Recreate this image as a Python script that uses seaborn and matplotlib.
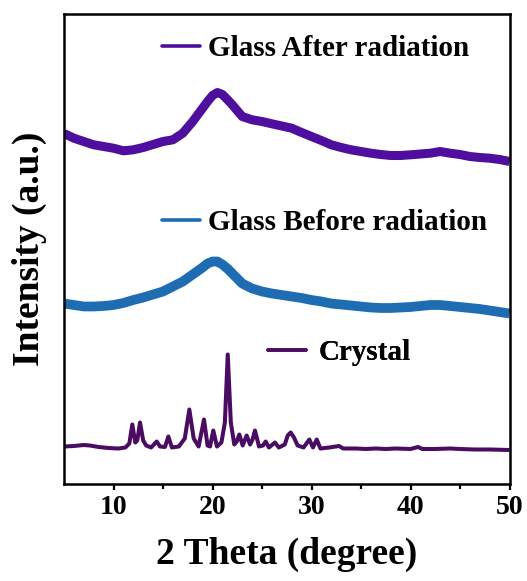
import numpy as np
import pandas as pd
import matplotlib
matplotlib.use("Agg")
import matplotlib.pyplot as plt
from matplotlib.ticker import FixedLocator
import seaborn as sns

# ---- data (2 theta in degrees, intensity in arbitrary units) ----
crystal_2theta = [5.0, 6.0, 7.0, 7.6, 8.5, 9.5, 10.5, 11.2, 11.6, 11.9, 12.2, 12.4,
                  12.68, 13.0, 13.3, 13.8, 14.36, 14.7, 15.2, 15.54, 15.9, 16.6, 17.2,
                  17.66, 18.1, 18.6, 19.14, 19.5, 19.75, 20.08, 20.45, 20.9, 21.25,
                  21.54, 21.85, 22.2, 22.45, 22.71, 23.05, 23.45, 23.8, 24.05, 24.29,
                  24.7, 25.1, 25.37, 25.7, 26.31, 26.7, 27.3, 27.6, 27.9, 28.23, 28.6,
                  29.2, 29.78, 30.15, 30.53, 30.9, 31.8, 32.78, 33.2, 34.5, 35.5, 36.5,
                  37.5, 38.5, 40.0, 40.76, 41.2, 42.5, 44.0, 45.0, 46.5, 48.0, 50.0]
crystal_intensity = [1, 1.5, 2.5, 2, 0.5, -0.5, -1, 0, 4, 23, 5, 7,
                     25, 7, 2, 0, 6, 1, 0.5, 11, 0, 1, 9,
                     38, 9, 1, 28, 2, 1, 17, 1, 5, 25,
                     93, 25, 3, 6, 13, 2, 12, 3, 8, 17,
                     1, 2, 6, 0, 5, 0, 3, 12, 15, 10, 2,
                     0, 8, 0, 8, -1, 0, 1.5, -1, -1, -1.5, -1,
                     -1.5, -1, -1.5, 0.5, -1.5, -1.5, -1, -1.5, -2, -2, -2.5]

glass_2theta = [5, 6, 7, 8, 9, 10, 11, 12, 13, 14, 15, 16, 17, 18, 19, 19.5, 20,
                20.5, 21, 21.5, 22, 23, 24, 25, 26, 27, 28, 29, 30, 31, 32, 33, 34,
                35, 36, 37, 38, 39, 40, 41, 42, 43, 44, 45, 46, 47, 48, 49, 50]
glass_before = [10, 8.5, 7, 7, 7.5, 8.5, 10.5, 13.5, 16, 19, 22, 27, 32, 39, 46, 50, 52,
                52, 49, 45, 40, 30, 25, 22, 20, 18.5, 17, 15.5, 13.5, 12, 10, 9, 8,
                7, 6, 5.5, 5.5, 6, 6.5, 7.5, 8.5, 8.5, 7.5, 6.5, 5.5, 4.5, 3, 1.5, 0]
glass_after = [30, 25.3, 22, 18.7, 17, 15.3, 12.7, 13.7, 16, 19, 22, 23.7, 30.3, 42, 55.3, 62, 68,
               71, 69, 64, 58.7, 47, 43.7, 42, 39.7, 37.5, 35.3, 31, 27, 23, 18.7, 16, 13.7,
               12, 10.3, 9, 8, 8, 8.7, 9.5, 10.3, 12, 10.3, 9, 7, 6, 5.3, 4, 2]

labels = ["Glass After radiation", "Glass Before radiation", "Crystal"]
offsets = [320, 170, 36]
colors = ["#4E0E9E", "#1E6DB2", "#4A0C62"]

# ---- style ----
sns.set_style("ticks")
plt.rcParams["font.family"] = ["Liberation Serif", "DejaVu Serif"]
plt.rcParams["font.weight"] = "bold"
plt.rcParams["axes.labelweight"] = "bold"
plt.rcParams["text.color"] = "black"
plt.rcParams["axes.labelcolor"] = "black"
plt.rcParams["xtick.color"] = "black"
plt.rcParams["ytick.color"] = "black"
plt.rcParams["axes.edgecolor"] = "black"

fig = plt.figure(figsize=(5.27, 5.81), dpi=100)
W, H = 527, 581
ax = fig.add_axes([64 / W, (H - 483.5) / H, (509.5 - 64) / W, (483.5 - 14) / H])

series = [
    (glass_2theta, glass_after),
    (glass_2theta, glass_before),
    (crystal_2theta, crystal_intensity),
]
widths = [6.5, 7.0, 2.9]
for (x, y), lab, off, col, lw in zip(series, labels, offsets, colors, widths):
    df = pd.DataFrame({"two_theta": x, "intensity": np.asarray(y, float) + off})
    sns.lineplot(data=df, x="two_theta", y="intensity", ax=ax, color=col,
                 linewidth=lw, sort=False, estimator=None,
                 solid_joinstyle="round", solid_capstyle="butt")

ax.set_xlim(5, 50)
ax.set_ylim(0, 469.5)
ax.set_yticks([])
ax.set_xticks([10, 20, 30, 40, 50])
ax.xaxis.set_minor_locator(FixedLocator([15, 25, 35, 45]))
ax.tick_params(axis="x", which="major", direction="out", length=4.5, width=1.6,
               labelsize=20, pad=4.0, colors="black")
ax.tick_params(axis="x", which="minor", direction="out", length=3.5, width=1.6,
               colors="black")
for lab in ax.get_xticklabels():
    lab.set_fontweight("bold")
for sp in ax.spines.values():
    sp.set_linewidth(1.8)
    sp.set_color("black")
    sp.set_visible(True)

ax.set_xlabel("2 Theta (degree)", fontsize=27, fontweight="bold", labelpad=12,
              color="black")
ax.set_ylabel("Intensity (a.u.)", fontsize=27, fontweight="bold", labelpad=12,
              color="black")

# one small legend above each curve
legend_spots = [(0.22, 0.927, 0.27), (0.22, 0.5556, 0.27), (0.458, 0.2784, 0.45)]
for lab, col, (lx, ly, pad) in zip(labels, colors, legend_spots):
    handle = plt.Line2D([], [], color=col, linewidth=2.6)
    leg = ax.legend([handle], [lab], loc="center left", bbox_to_anchor=(lx, ly),
                    frameon=False, handlelength=1.3, handletextpad=pad,
                    borderpad=0, borderaxespad=0, labelcolor="black",
                    prop={"family": ["Liberation Serif"], "weight": "bold", "size": 21})
    ax.add_artist(leg)

fig.savefig("out.png", dpi=100)
